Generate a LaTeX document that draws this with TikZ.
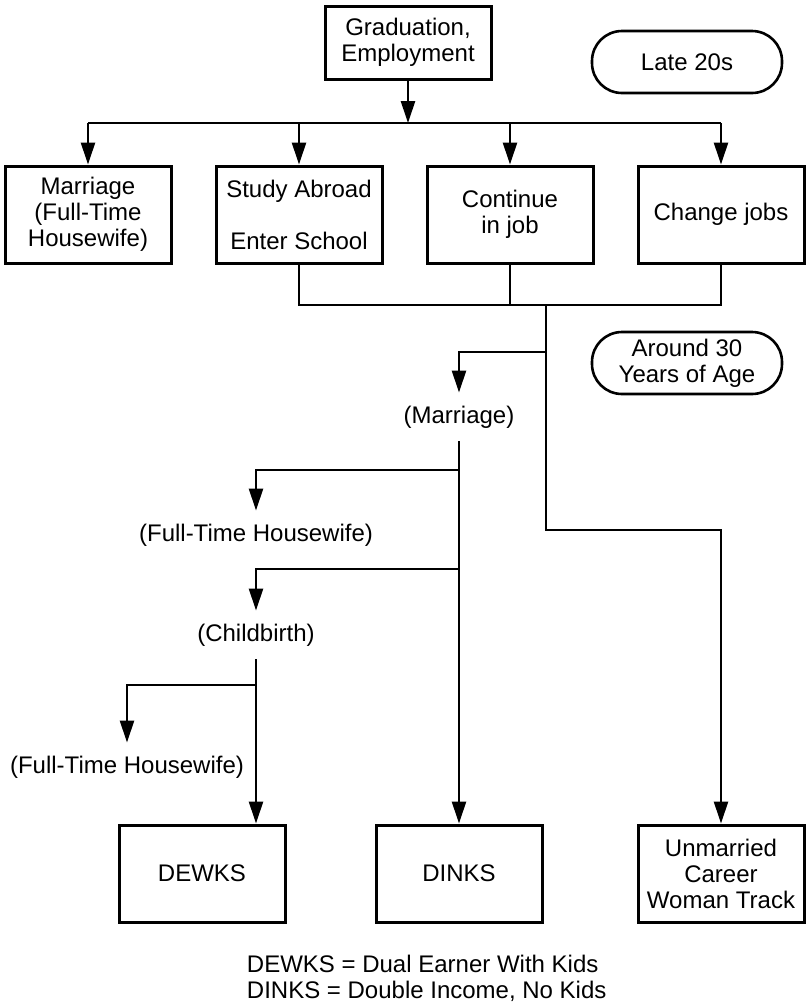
\documentclass[tikz,border=0pt]{standalone}
\usepackage{fontspec}
\setmainfont{Liberation Sans}
\usetikzlibrary{arrows.meta,positioning,calc}

\begin{document}
\begin{tikzpicture}[x=0.5pt, y=-0.5pt, line width=1.3pt,
    >={Triangle[length=11pt,width=7pt]},
    every node/.style={font=\fontsize{12}{13}\selectfont, align=center},
    box/.style={draw, line width=1.5pt, minimum width=83pt, minimum height=48.5pt},
    age/.style={draw, rounded corners=15pt, minimum width=95pt, minimum height=31pt},
    lbl/.style={inner xsep=2pt, inner ysep=6pt}]
  \useasboundingbox (0,0) rectangle (806,1003);

  % Top of the tree
  \node[box, minimum height=36.5pt] (grad) at (408,42.5) {Graduation,\\Employment};
  \node[age] (late) at (687,62) {Late 20s};
  \node[box] (mar) at (88,214.5) {Marriage\\(Full-Time\\Housewife)};
  \node[box] (study) at (299,214.5) {Study Abroad\\~\\Enter School};
  \node[box] (cont) at (510,214.5) {Continue\\in job};
  \node[box] (chg) at (721,214.5) {Change jobs};

  % Labels along the way
  \node[age] (thirty) at (687,363) {Around 30\\Years of Age};
  \node[lbl] (mar2) at (459,417) {(Marriage)};
  \node[lbl] (hw1) at (256,535) {(Full-Time Housewife)};
  \node[lbl] (child) at (256,635) {(Childbirth)};
  \node[lbl] (hw2) at (127,767) {(Full-Time Housewife)};

  % Outcomes
  \node[box] (dewks) at (202,873.5) {DEWKS};
  \node[box] (dinks) at (459,873.5) {DINKS};
  \node[box] (unmar) at (721,873.5) {Unmarried\\Career\\Woman Track};
  \node[anchor=west, align=left] (legend) at (239,978)
    {DEWKS = Dual Earner With Kids\\DINKS = Double Income, No Kids};

  % Junctions
  \coordinate (b0) at (408,123);
  \coordinate (b1) at (546,305);
  \coordinate (j1) at (546,352);
  \coordinate (j2) at (459,470);
  \coordinate (j3) at (459,569);
  \coordinate (j4) at (546,530);
  \coordinate (j5) at (256,685);

  % Arrows from the top box
  \draw[->] (grad) -- (b0);
  \draw (mar |- b0) -- (chg |- b0);
  \foreach \n in {mar,study,cont,chg}
    \draw[->] (\n |- b0) -- (\n);

  % Joining the three boxes
  \draw (study.south) -- (study |- b1) -- (chg |- b1) -- (chg.south);
  \draw (cont.south) -- (cont |- b1);

  % Branches down to the outcomes
  \draw[->] (b1) -- (j4) -| (unmar);
  \draw[->] (j1) -| (mar2);
  \draw[->] (mar2) -- (dinks);
  \draw[->] (j2) -| (hw1);
  \draw[->] (j3) -| (child);
  \draw[->] (child) -- (child |- dewks.north);
  \draw[->] (j5) -| (hw2);
\end{tikzpicture}
\end{document}
